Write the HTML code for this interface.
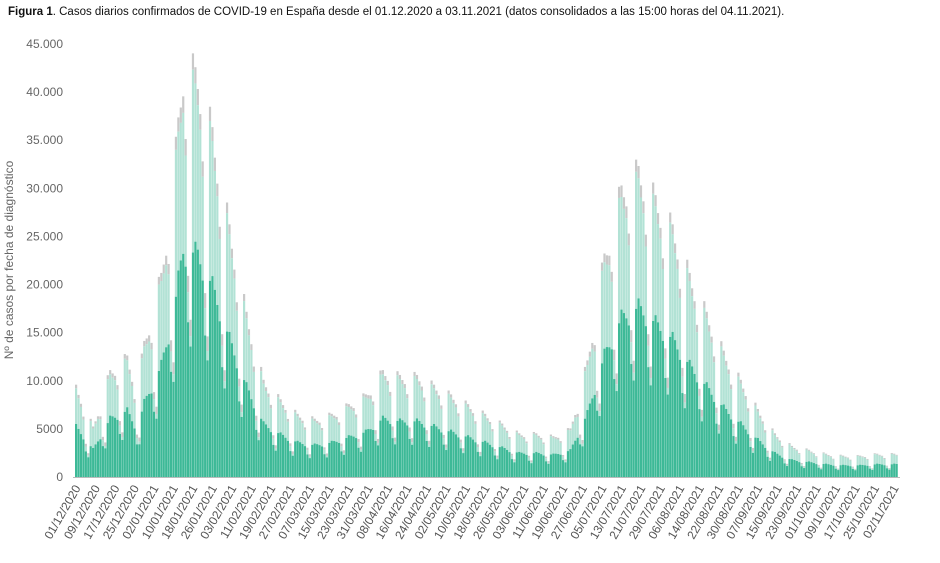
<!DOCTYPE html>
<html><head><meta charset="utf-8"><style>
body{margin:0;background:#fff;width:940px;height:558px;overflow:hidden;font-family:"Liberation Sans",sans-serif}
</style></head><body>
<svg id="c" width="940" height="558" xmlns="http://www.w3.org/2000/svg" font-family="Liberation Sans, sans-serif">
<text x="8" y="15" font-size="11.5" fill="#111"><tspan font-weight="bold">Figura 1</tspan>. Casos diarios confirmados de COVID-19 en España desde el 01.12.2020 a 03.11.2021 (datos consolidados a las 15:00 horas del 04.11.2021).</text>
<text transform="translate(13,260) rotate(-90)" text-anchor="middle" font-size="12" fill="#666">Nº de casos por fecha de diagnóstico</text>
<g id="ax" font-size="12" fill="#666" text-anchor="end"></g>
<g id="bars"></g>
<g id="xl" font-size="12" fill="#555" text-anchor="end"></g>
</svg>
<script>
var NS="http://www.w3.org/2000/svg";
function el(p,t,a,txt){var e=document.createElementNS(NS,t);for(var k in a)e.setAttribute(k,a[k]);if(txt)e.textContent=txt;p.appendChild(e);return e;}
var y0=477,sc=433/45000,x0=75,dw=(898-75)/338;
var ax=document.getElementById('ax');
var yl=["0","5000","10.000","15.000","20.000","25.000","30.000","35.000","40.000","45.000"];
for(var i=0;i<10;i++)el(ax,'text',{x:63,y:y0-i*5000*sc+4},yl[i]);
var env=[[0,9500],[7,5200],[14,11000],[21,12500],[25,9000],[28,14000],[35,21000],[40,31000],[44,43000],[50,42000],[56,36000],[63,26000],[70,17000],[77,10000],[84,8000],[91,6500],[98,6000],[105,6500],[112,7500],[119,8500],[126,11000],[133,10500],[140,10500],[147,9500],[154,8500],[161,7500],[168,6500],[175,5500],[182,4500],[189,4500],[196,4200],[203,5000],[210,12000],[217,23000],[224,30000],[231,32000],[238,29000],[245,26000],[252,21000],[259,17000],[266,13000],[273,10000],[280,7000],[287,4500],[294,3200],[301,2800],[308,2400],[315,2200],[322,2200],[329,2400],[338,2400]];
function E(d){for(var i=0;i<env.length-1;i++){if(d<=env[i+1][0]){var a=env[i],b=env[i+1];return a[1]+(b[1]-a[1])*(d-a[0])/(b[0]-a[0]);}}return 2400;}
var ft=[.3,1,.97,.92,.88,.78,.45],fd=[.55,.95,1,.97,.93,.88,.65];
var g=document.getElementById('bars');
for(var d=0;d<338;d++){
 var dow=(d+2)%7,T=E(d);
 var dark=0.58*T*fd[dow],tot=Math.max(T*ft[dow],dark*1.08),gr=0.04*T;
 var x=x0+d*dw,w=dw*0.9;
 el(g,'rect',{x:x,y:y0-(tot+gr)*sc,width:w,height:gr*sc,fill:"#c9c9c9"});
 el(g,'rect',{x:x,y:y0-tot*sc,width:w,height:(tot-dark)*sc,fill:"#b2e2d5"});
 el(g,'rect',{x:x,y:y0-dark*sc,width:w,height:dark*sc,fill:"#3db997"});
}
el(g,'line',{x1:73,y1:y0+0.5,x2:900,y2:y0+0.5,stroke:"#bbb","stroke-width":1});
var labs=["01/12/2020","09/12/2020","17/12/2020","25/12/2020","02/01/2021","10/01/2021","18/01/2021","26/01/2021","03/02/2021","11/02/2021","19/02/2021","27/02/2021","07/03/2021","15/03/2021","23/03/2021","31/03/2021","08/04/2021","16/04/2021","24/04/2021","02/05/2021","10/05/2021","18/05/2021","26/05/2021","03/06/2021","11/06/2021","19/06/2021","27/06/2021","05/07/2021","13/07/2021","21/07/2021","29/07/2021","06/08/2021","14/08/2021","22/08/2021","30/08/2021","07/09/2021","15/09/2021","23/09/2021","01/10/2021","09/10/2021","17/10/2021","25/10/2021","02/11/2021"];
var xl=document.getElementById('xl');
for(var i=0;i<labs.length;i++){var x=x0+i*8*dw+6;el(xl,'text',{transform:"translate("+x+",488) rotate(-60)"},labs[i]);}
</script>
</body></html>
